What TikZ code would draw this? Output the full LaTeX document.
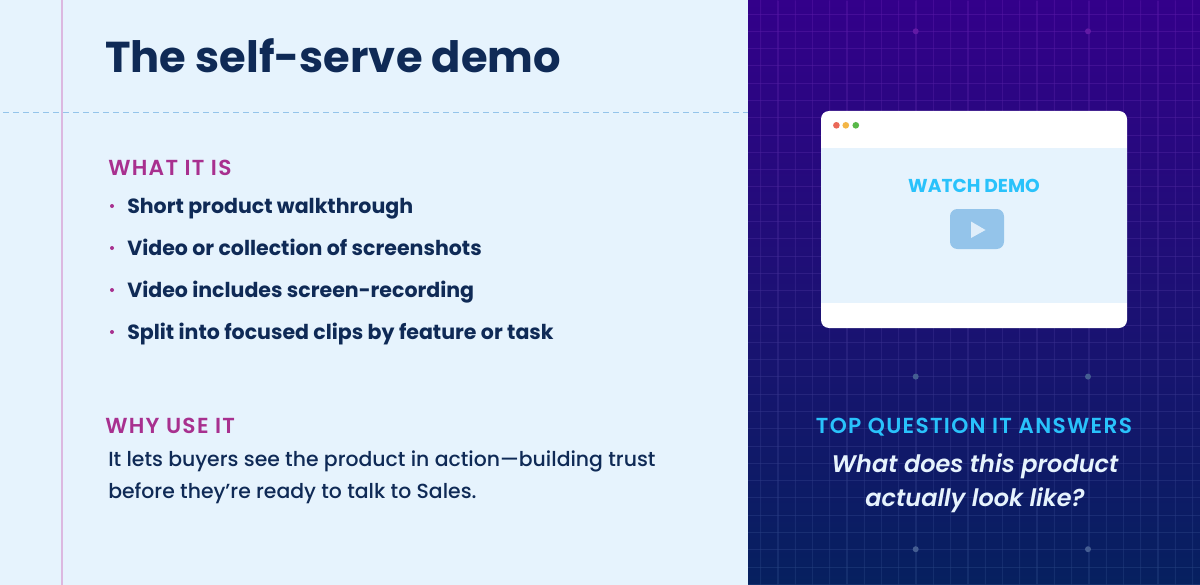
\documentclass[tikz,border=0pt]{standalone}
\usepackage{fontspec}
\setmainfont{Poppins}
\newfontfamily\semifont[ItalicFont={Poppins SemiBold Italic}]{Poppins SemiBold}
\newfontfamily\medfont{Poppins Medium}
\newfontfamily\capsfont[LetterSpace=6]{Poppins SemiBold}
\definecolor{paper}{HTML}{E6F3FD}
\definecolor{navy}{HTML}{0F2A56}
\definecolor{plum}{HTML}{A8308F}
\definecolor{sky}{HTML}{29C2FB}
\definecolor{panetop}{HTML}{33008A}
\definecolor{panebot}{HTML}{06205F}
\definecolor{gridtop}{HTML}{5A18A8}
\definecolor{gridbot}{HTML}{24427F}
\definecolor{playbox}{HTML}{94C4EA}
\definecolor{playtip}{HTML}{E0EEFA}
\tikzset{
  txt/.style={inner sep=0pt,anchor=base west},
  heading/.style={txt,text=plum,font=\capsfont\fontsize{16.3}{18}\selectfont},
  item/.style={txt,text=navy,font=\bfseries\fontsize{15.4}{18}\selectfont},
  body/.style={txt,text=navy,font=\medfont\fontsize{15.3}{18}\selectfont},
  bullet/.style={circle,fill=plum,inner sep=0pt,minimum size=3pt},
  gridnode/.style={circle,inner sep=0pt,minimum size=4.5pt},
  light/.style={circle,inner sep=0pt,minimum size=5pt}
}
\begin{document}
\begin{tikzpicture}[x=0.75pt,y=-0.75pt]
    \useasboundingbox (0,0) rectangle (1200,585);
    \fill[paper] (0,0) rectangle (748,585);
    \shade[top color=panetop,bottom color=panebot] (748,0) rectangle (1200,585);
    % grid on the dark pane
    \foreach \gx in {0,...,25} {
      \shade[top color=gridtop,bottom color=gridbot,opacity=0.45] ({760.2+17.28*\gx},0) rectangle ({761+17.28*\gx},585);
    }
    \foreach \gy in {0,...,33} {
      \pgfmathtruncatemacro{\gmix}{100-(14+17.28*\gy)/5.85}
      \draw[gridtop!\gmix!gridbot,opacity=0.5,line width=0.6pt] (748,{14+17.28*\gy}) -- (1200,{14+17.28*\gy});
    }
    \node[gridnode,fill=gridtop!90!plum] (dota) at ( 915.7, 31.3) {};
    \node[gridnode,fill=gridtop!90!plum] (dotb) at (1088.0, 31.3) {};
    \node[gridnode,fill=gridbot!85!white] (dotc) at ( 915.7,376.6) {};
    \node[gridnode,fill=gridbot!85!white] (dotd) at (1088.0,376.6) {};
    \node[gridnode,fill=gridbot!85!white] (dote) at ( 915.7,549.2) {};
    \node[gridnode,fill=gridbot!85!white] (dotf) at (1088.0,549.2) {};
    % rules on the light pane
    \draw[color={rgb,255:red,220;green,184;blue,224},line width=1.6pt] (62.3,0) -- (62.3,585);
    \draw[playbox,line width=1.2pt,dash pattern=on 4.5pt off 3pt] (3,112.5) -- (748,112.5);
    % left column
    \node[txt,text=navy,font=\bfseries\fontsize{32.4}{40}\selectfont] (title) at (105,73) {The self-serve demo};
    \node[heading] (what)  at (108,175) {WHAT IT IS};
    \node[bullet]  (bula)  at (112,206) {};
    \node[bullet]  (bulb)  at (112,248) {};
    \node[bullet]  (bulc)  at (112,290) {};
    \node[bullet]  (buld)  at (112,332) {};
    \node[item]    (itema) at (127,213) {Short product walkthrough};
    \node[item]    (itemb) at (127,255) {Video or collection of screenshots};
    \node[item]    (itemc) at (127,297) {Video includes screen-recording};
    \node[item]    (itemd) at (127,339) {Split into focused clips by feature or task};
    \node[heading] (why)   at (105,433) {WHY USE IT};
    \node[body]    (bodya) at (108,466) {It lets buyers see the product in action—building trust};
    \node[body]    (bodyb) at (108,498) {before they’re ready to talk to Sales.};
    % browser window
    \fill[white,rounded corners=6pt] (821,111) rectangle (1127,328);
    \fill[paper] (821,148) rectangle (1127,303);
    \node[light,fill={rgb,255:red,234;green,104;blue,88}]  (red)    at (836.4,125.3) {};
    \node[light,fill={rgb,255:red,243;green,182;blue,70}]  (yellow) at (845.8,125.3) {};
    \node[light,fill={rgb,255:red,88;green,184;blue,72}]   (green)  at (855.8,125.3) {};
    \node[inner sep=0pt,text=sky,font=\bfseries\fontsize{14}{16}\selectfont] (watch) at (974,186) {WATCH DEMO};
    \fill[playbox,rounded corners=5.5pt] (950,209) rectangle (1004,249);
    \fill[playtip] (971,221.5) -- (985.5,230) -- (971,238) -- cycle;
    % question text
    \node[inner sep=0pt,text=sky,font=\capsfont\fontsize{16.3}{18}\selectfont] (top) at (974,427) {TOP QUESTION IT ANSWERS};
    \node[inner sep=0pt,text=paper,font=\semifont\itshape\fontsize{18}{22}\selectfont] (qa) at (975,466) {What does this product};
    \node[inner sep=0pt,text=paper,font=\semifont\itshape\fontsize{18}{22}\selectfont] (qb) at (975,500) {actually look like?};
  \end{tikzpicture}
\end{document}
